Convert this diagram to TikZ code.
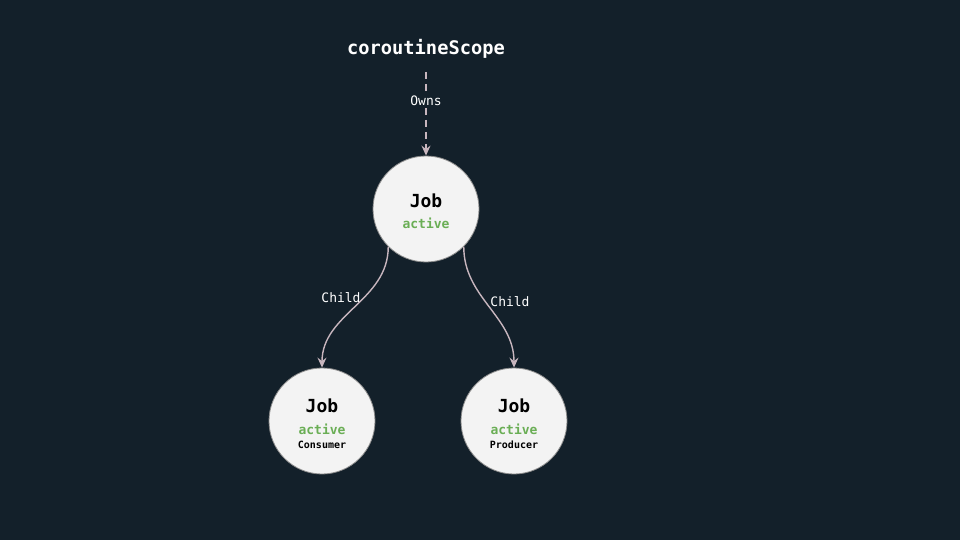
\documentclass[tikz,border=0pt]{standalone}
\usepackage{fontspec}
\setmonofont{DejaVu Sans Mono}
\usetikzlibrary{arrows.meta}
\definecolor{bg}{HTML}{13202A}
\definecolor{nodefill}{HTML}{F3F3F3}
\definecolor{nodeborder}{HTML}{8A8A8A}
\definecolor{edge}{HTML}{C8B6BE}
\definecolor{activegreen}{HTML}{6AAE55}
\tikzset{
  job/.style={circle, fill=nodefill, draw=nodeborder, line width=0.8pt, minimum size=106pt, inner sep=0pt},
  jobt/.style={font=\ttfamily\bfseries\fontsize{18}{20}\selectfont, text=black, inner sep=0pt},
  actt/.style={font=\ttfamily\bfseries\fontsize{13}{15}\selectfont, text=activegreen, inner sep=0pt},
  namet/.style={font=\ttfamily\bfseries\fontsize{10}{12}\selectfont, text=black, inner sep=0pt},
  conn/.style={draw=edge, line width=1.4pt, -{Stealth[length=10pt,width=9pt,inset=3.5pt]}},
  lbl/.style={font=\ttfamily\fontsize{13}{15}\selectfont, text=white, inner sep=2pt},
}
\begin{document}
\begin{tikzpicture}[x=1pt,y=-1pt]
\fill[bg] (0,0) rectangle (960,540);
\useasboundingbox (0,0) rectangle (960,540);
\node[font=\ttfamily\bfseries\fontsize{18.7}{20}\selectfont, text=white] (scope) at (426,49) {coroutineScope};
\node[job] (root) at (426,209) {};
\node[jobt] (rootj) at (426,201) {Job};
\node[actt] (roota) at (426,223) {active};
\node[job] (cons) at (322,421) {};
\node[jobt] (consj) at (322,406) {Job};
\node[actt] (consa) at (322,429) {active};
\node[namet] (consn) at (322,445) {Consumer};
\node[job] (prod) at (514,421) {};
\node[jobt] (prodj) at (514,406) {Job};
\node[actt] (proda) at (514,429) {active};
\node[namet] (prodn) at (514,445) {Producer};
\coordinate (s0) at (426,72);
\draw[conn, dashed, dash pattern=on 7pt off 5pt] (s0) -- (root.north)
  node[pos=0.35, lbl, fill=bg] (owns) {Owns};
\draw[conn] (root.225) to[out=-90, in=90, looseness=1.0] (cons.north);
\draw[conn] (root.-45) to[out=-90, in=90, looseness=1.0] (prod.north);
\node[lbl] (c1) at (341,298) {Child};
\node[lbl] (c2) at (510,302) {Child};
\end{tikzpicture}
\end{document}
